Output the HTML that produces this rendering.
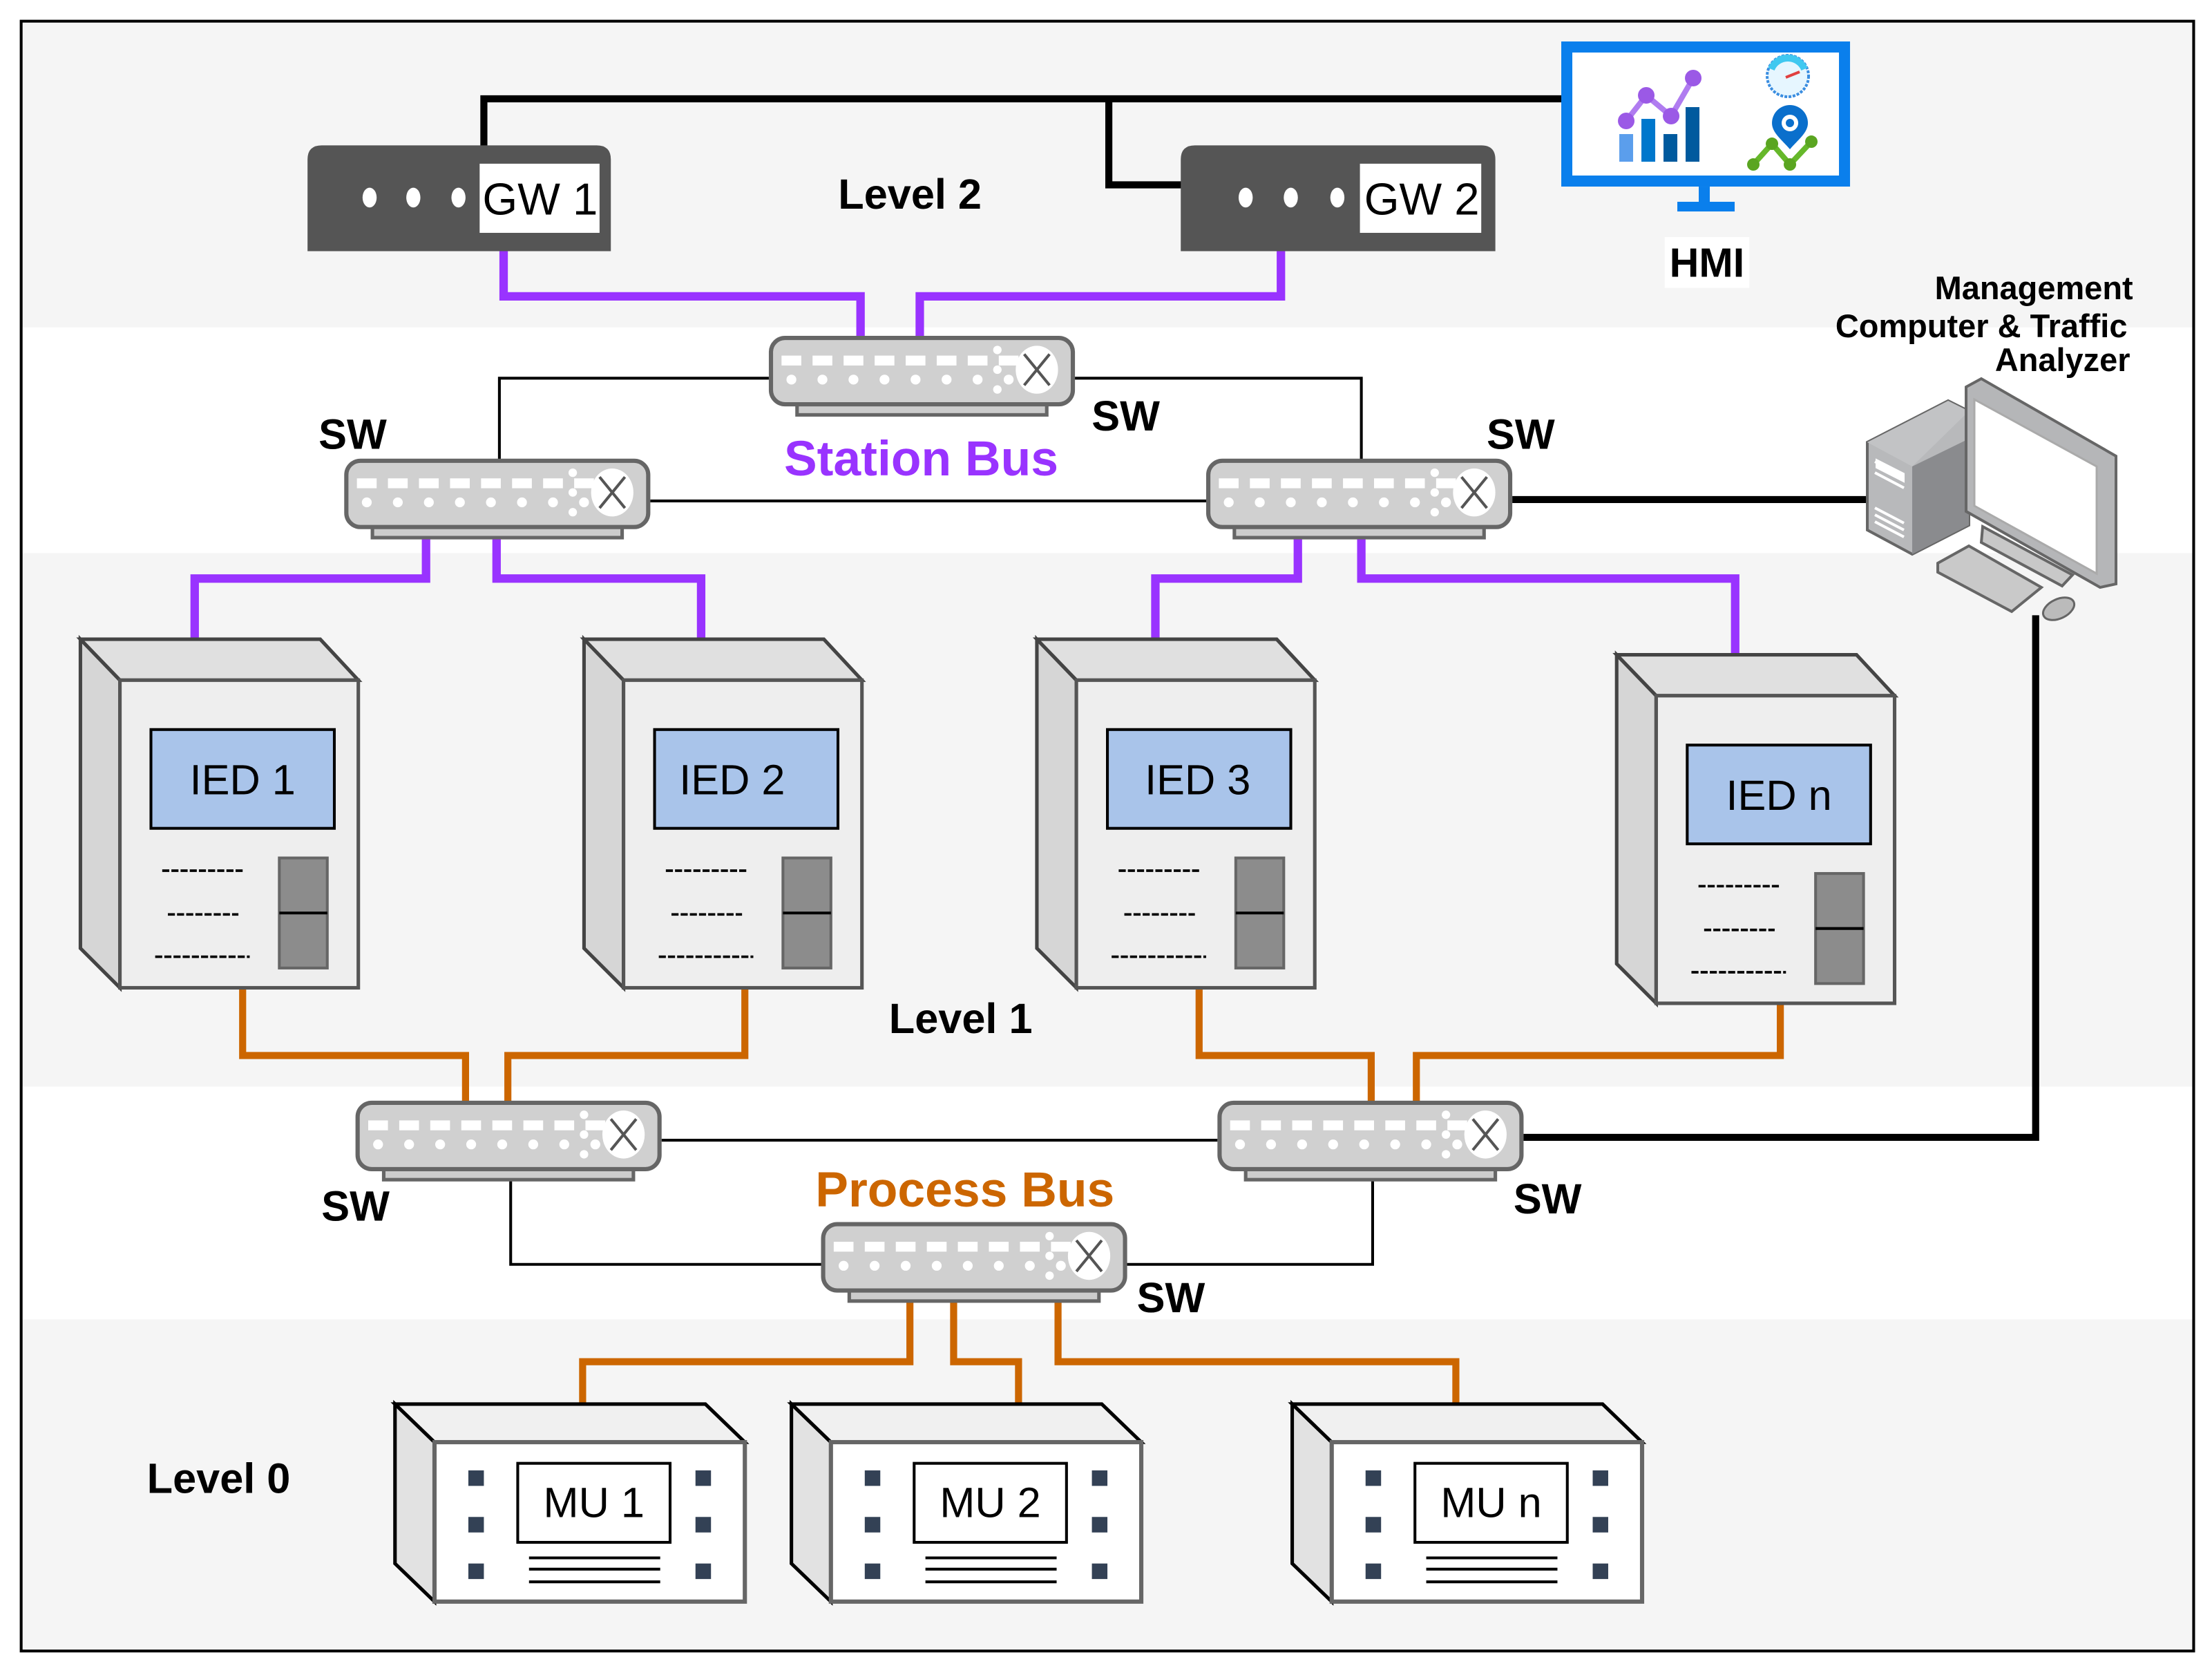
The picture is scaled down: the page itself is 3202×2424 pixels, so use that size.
<!DOCTYPE html>
<html><head><meta charset="utf-8"><style>html,body{margin:0;padding:0;background:#fff}svg{display:block}text{font-family:"Liberation Sans",Arial,sans-serif}</style></head>
<body>
<svg width="3202" height="2424" viewBox="0 0 1568 1187" xmlns="http://www.w3.org/2000/svg">
<defs>
<g id="sw">
<rect x="20" y="47" width="177" height="9" fill="#ccc" stroke="#666" stroke-width="2.5"/>
<rect x="1.5" y="1.5" width="214" height="47" rx="10" fill="#d0d0d0" stroke="#666" stroke-width="3"/>
<g fill="#fff">
<rect x="9" y="14" width="14" height="7"/><rect x="31" y="14" width="14" height="7"/><rect x="53" y="14" width="14" height="7"/><rect x="75" y="14" width="14" height="7"/><rect x="97" y="14" width="14" height="7"/><rect x="119" y="14" width="14" height="7"/><rect x="141" y="14" width="14" height="7"/><rect x="163" y="14" width="14" height="7"/>
<circle cx="16" cy="31" r="3.5"/><circle cx="38" cy="31" r="3.5"/><circle cx="60" cy="31" r="3.5"/><circle cx="82" cy="31" r="3.5"/><circle cx="104" cy="31" r="3.5"/><circle cx="126" cy="31" r="3.5"/><circle cx="148" cy="31" r="3.5"/><circle cx="170" cy="31" r="3.5"/>
<circle cx="162" cy="10" r="3"/><circle cx="162" cy="24" r="3"/><circle cx="162" cy="38" r="3"/>
<ellipse cx="190" cy="24" rx="15" ry="17"/></g>
<path d="M181 13 L199 35 M199 13 L181 35" stroke="#555" stroke-width="2"/>
</g>
<g id="ied">
<polygon points="0,0 28,29 28,247 0,219" fill="#d6d6d6" stroke="#444" stroke-width="2.5"/>
<polygon points="0,0 170,0 197,29 28,29" fill="#e0e0e0" stroke="#444" stroke-width="2.5"/>
<rect x="28" y="29" width="169" height="218" fill="#eee" stroke="#555" stroke-width="2.5"/>
<rect x="50" y="64" width="130" height="70" fill="#a9c4ea" stroke="#000" stroke-width="2"/>
<rect x="141" y="155" width="34" height="78" fill="#8c8c8c" stroke="#666" stroke-width="2"/>
<line x1="141" y1="194" x2="175" y2="194" stroke="#000" stroke-width="2"/>
<g stroke="#000" stroke-width="1.8" stroke-dasharray="5,1.5">
<line x1="58" y1="164" x2="116" y2="164"/><line x1="62" y1="195" x2="112" y2="195"/><line x1="53" y1="225" x2="120" y2="225"/></g>
</g>
<g id="mu">
<polygon points="0,0 28,27 28,140 0,113" fill="#e2e2e2" stroke="#000" stroke-width="2.5"/>
<polygon points="0,0 220,0 248,27 28,27" fill="#f0f0f0" stroke="#000" stroke-width="2.5"/>
<rect x="28" y="27" width="220" height="113" fill="#fff" stroke="#666" stroke-width="3"/>
<rect x="87" y="42" width="108" height="56" fill="#fff" stroke="#000" stroke-width="2"/>
<g fill="#334155"><rect x="52" y="47" width="11" height="11"/><rect x="52" y="80" width="11" height="11"/><rect x="52" y="113" width="11" height="11"/><rect x="213" y="47" width="11" height="11"/><rect x="213" y="80" width="11" height="11"/><rect x="213" y="113" width="11" height="11"/></g>
<g stroke="#000" stroke-width="2"><line x1="95" y1="109" x2="188" y2="109"/><line x1="95" y1="117" x2="188" y2="117"/><line x1="95" y1="126" x2="188" y2="126"/></g>
</g>
</defs>
<rect width="1568" height="1187" fill="#fff"/>
<rect x="15" y="15" width="1540" height="217" fill="#f5f5f5"/>
<rect x="15" y="392" width="1540" height="378" fill="#f5f5f5"/>
<rect x="15" y="935" width="1540" height="235" fill="#f5f5f5"/>
<rect x="15" y="15" width="1540" height="1155" fill="none" stroke="#000" stroke-width="2"/>

<!-- black thick -->
<g fill="none" stroke="#000" stroke-width="5">
<polyline points="343,104 343,70 1110,70"/>
<polyline points="786,70 786,131 838,131"/>
<line x1="1072" y1="354" x2="1326" y2="354"/>
<polyline points="1080,806 1443,806 1443,436"/>
</g>
<!-- thin -->
<g fill="none" stroke="#000" stroke-width="2">
<polyline points="545,268 354,268 354,326"/>
<polyline points="762,268 965,268 965,326"/>
<line x1="461" y1="355" x2="855" y2="355"/>
<line x1="469" y1="808" x2="863" y2="808"/>
<polyline points="362,832 362,896 582,896"/>
<polyline points="973,832 973,896 798,896"/>
</g>
<!-- purple -->
<g fill="none" stroke="#9933ff" stroke-width="6">
<polyline points="357,178 357,210 610,210 610,240"/>
<polyline points="908,178 908,210 652,210 652,240"/>
<polyline points="302,378 302,410 138,410 138,454"/>
<polyline points="352,378 352,410 497,410 497,454"/>
<polyline points="920,378 920,410 819,410 819,454"/>
<polyline points="965,378 965,410 1230,410 1230,465"/>
</g>
<!-- orange -->
<g fill="none" stroke="#cc6600" stroke-width="5">
<polyline points="172,700 172,748 330,748 330,781"/>
<polyline points="528,700 528,748 360,748 360,781"/>
<polyline points="850,700 850,748 972,748 972,781"/>
<polyline points="1262,711 1262,748 1004,748 1004,781"/>
<polyline points="645,919 645,965 413,965 413,996"/>
<polyline points="676,919 676,965 722,965 722,996"/>
<polyline points="750,919 750,965 1032,965 1032,996"/>
</g>

<!-- gateways -->
<path d="M218,178 V113 Q218,103 228,103 H423 Q433,103 433,113 V178 Z" fill="#555"/>
<rect x="340" y="116" width="85" height="49" fill="#fff"/>
<g fill="#fff"><ellipse cx="262" cy="140" rx="5" ry="7"/><ellipse cx="293" cy="140" rx="5" ry="7"/><ellipse cx="325" cy="140" rx="5" ry="7"/></g>
<text x="342" y="152" font-size="32" fill="#000">GW 1</text>
<path d="M837,178 V113 Q837,103 847,103 H1050 Q1060,103 1060,113 V178 Z" fill="#555"/>
<rect x="964" y="116" width="86" height="49" fill="#fff"/>
<g fill="#fff"><ellipse cx="883" cy="140" rx="5" ry="7"/><ellipse cx="915" cy="140" rx="5" ry="7"/><ellipse cx="948" cy="140" rx="5" ry="7"/></g>
<text x="967" y="152" font-size="32" fill="#000">GW 2</text>

<!-- HMI & computer in full coords -->
<g transform="scale(0.48970)">
<rect x="2268" y="68" width="402" height="194" fill="#fff" stroke="#0a7fec" stroke-width="16"/>
<rect x="2459" y="270" width="16" height="24" fill="#0a7fec"/>
<rect x="2428" y="292" width="83" height="14" fill="#0a7fec"/>
<rect x="2344" y="194" width="20" height="40" fill="#5b9eec"/>
<rect x="2376" y="172" width="20" height="62" fill="#0077cc"/>
<rect x="2408" y="194" width="20" height="40" fill="#005a9e"/>
<rect x="2440" y="155" width="20" height="79" fill="#005a9e"/>
<polyline points="2354,175 2383,138 2419,168 2451,113" fill="none" stroke="#b07cf0" stroke-width="8"/>
<g fill="#9b59e6"><circle cx="2354" cy="175" r="12"/><circle cx="2383" cy="138" r="12"/><circle cx="2419" cy="168" r="12"/><circle cx="2451" cy="113" r="12"/></g>
<circle cx="2588" cy="110" r="30" fill="#e6f6ff" stroke="#3a8de0" stroke-width="4" stroke-dasharray="4,2"/>
<path d="M2564,100 A26,26 0 0 1 2612,100" fill="none" stroke="#40c8f0" stroke-width="10"/>
<line x1="2585" y1="112" x2="2605" y2="104" stroke="#e04040" stroke-width="4"/>
<path d="M2591,152 a26,26 0 0 1 26,26 c0,14 -14,24 -26,38 c-12,-14 -26,-24 -26,-38 a26,26 0 0 1 26,-26z" fill="#0a6fcc"/>
<circle cx="2591" cy="178" r="12" fill="#fff"/><circle cx="2591" cy="178" r="6" fill="#0a6fcc"/>
<polyline points="2538,238 2565,208 2591,238 2622,205" fill="none" stroke="#66b82a" stroke-width="8"/>
<g fill="#5aa521"><circle cx="2538" cy="238" r="9"/><circle cx="2565" cy="208" r="9"/><circle cx="2591" cy="238" r="9"/><circle cx="2622" cy="205" r="9"/></g>
<!-- computer -->
<polygon points="2703,640 2820,580 2850,595 2850,760 2768,802 2703,767" fill="#b8b9bb" stroke="#666" stroke-width="4"/>
<polygon points="2768,675 2850,635 2850,760 2768,802" fill="#8a8b8e"/>
<polygon points="2703,640 2820,580 2850,595 2768,675" fill="#c2c3c5"/>
<rect x="2715" y="660" width="42" height="14" fill="#fff" transform="skewY(27) translate(0,-1380)"/>
<g stroke="#fff" stroke-width="4"><line x1="2714" y1="668" x2="2756" y2="690"/><line x1="2714" y1="684" x2="2756" y2="706"/><line x1="2714" y1="735" x2="2756" y2="757"/><line x1="2714" y1="745" x2="2756" y2="767"/><line x1="2714" y1="755" x2="2756" y2="777"/></g>
<polygon points="2846,560 2868,548 3063,660 3063,845 3040,850 2846,740" fill="#b5b6b8" stroke="#666" stroke-width="4"/>
<polygon points="2858,578 3035,675 3035,830 2858,732" fill="#fff" stroke="#aaa" stroke-width="3"/>
<polygon points="2870,762 3000,832 2985,848 2868,785" fill="#c8c8c8" stroke="#666" stroke-width="4"/>
<polygon points="2805,815 2850,790 2955,850 2912,885 2805,828" fill="#c9c9c9" stroke="#666" stroke-width="4"/>
<ellipse cx="2980" cy="881" rx="24" ry="14" fill="#bbb" stroke="#666" stroke-width="3" transform="rotate(-25 2980 881)"/>
</g>

<!-- switches -->
<use href="#sw" x="545" y="238"/>
<use href="#sw" x="244" y="325"/>
<use href="#sw" x="855" y="325"/>
<use href="#sw" x="252" y="780"/>
<use href="#sw" x="863" y="780"/>
<use href="#sw" x="582" y="866"/>

<!-- IEDs -->
<use href="#ied" x="57" y="453"/>
<use href="#ied" x="414" y="453"/>
<use href="#ied" x="735" y="453"/>
<use href="#ied" x="1146" y="464"/>
<g font-size="30" fill="#000" text-anchor="middle">
<text x="172" y="563">IED 1</text>
<text x="519" y="563">IED 2</text>
<text x="849" y="563">IED 3</text>
<text x="1261" y="574">IED n</text>
</g>

<!-- MUs -->
<use href="#mu" x="280" y="995"/>
<use href="#mu" x="561" y="995"/>
<use href="#mu" x="916" y="995"/>
<g font-size="30" fill="#000" text-anchor="middle">
<text x="421" y="1075">MU 1</text>
<text x="702" y="1075">MU 2</text>
<text x="1057" y="1075">MU n</text>
</g>

<!-- labels -->
<g font-weight="bold" fill="#000" font-size="30" text-anchor="middle">
<text x="645" y="148">Level 2</text>
<text x="681" y="732">Level 1</text>
<text x="155" y="1058">Level 0</text>
<text x="250" y="318">SW</text>
<text x="798" y="305">SW</text>
<text x="1078" y="318">SW</text>
<text x="252" y="865">SW</text>
<text x="1097" y="860">SW</text>
<text x="830" y="930">SW</text>
</g>
<rect x="1180" y="168" width="60" height="36" fill="#fff"/>
<text x="1210" y="196" font-size="29" font-weight="bold" text-anchor="middle">HMI</text>
<text x="653" y="337" font-size="35" font-weight="bold" fill="#9933ff" text-anchor="middle">Station Bus</text>
<text x="684" y="855" font-size="35" font-weight="bold" fill="#cc6600" text-anchor="middle">Process Bus</text>
<g font-size="23" font-weight="bold" text-anchor="end">
<text x="1512" y="212">Management</text>
<text x="1508" y="239">Computer &amp; Traffic</text>
<text x="1510" y="263">Analyzer</text>
</g>
</svg>
</body></html>
